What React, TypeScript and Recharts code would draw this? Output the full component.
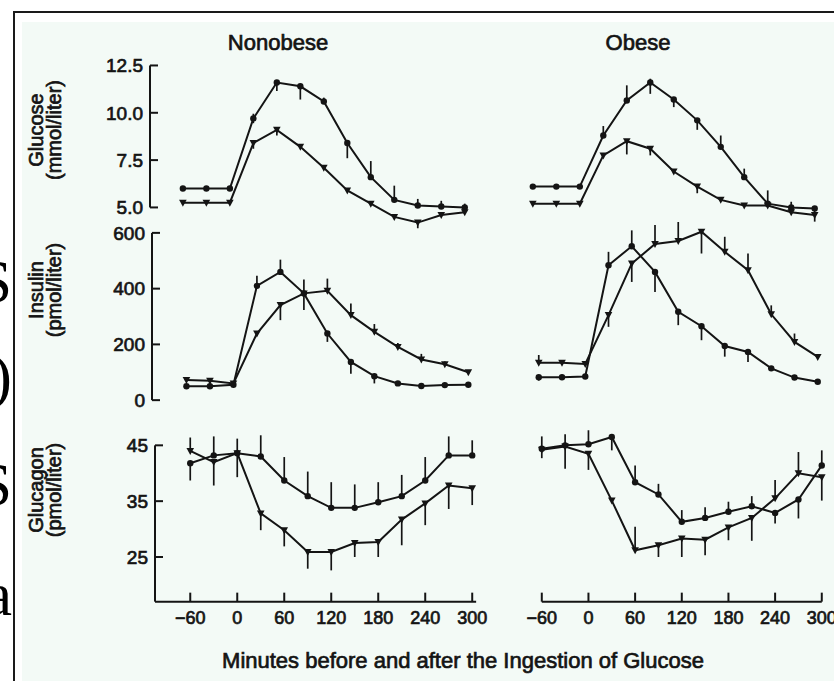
import { LineChart, Line, XAxis, YAxis, ErrorBar, ReferenceLine } from "recharts"

const INK = "#141414"
const FONT = "'Liberation Sans', Arial, Helvetica, sans-serif"

type Err = [number, number]

// minutes relative to glucose ingestion
const minutes = [-60, -30, 0, 30, 60, 90, 120, 150, 180, 210, 240, 270, 300]
const minuteTicks = [-60, 0, 60, 120, 180, 240, 300]

// glucose, mmol/liter
const glucoseTicks = [5, 7.5, 10, 12.5]
const glucoseNonobeseA = [6.0, 6.0, 6.0, 9.7, 11.6, 11.4, 10.6, 8.4, 6.6, 5.4, 5.1, 5.05, 5.0]
const glucoseNonobeseB = [5.25, 5.25, 5.25, 8.4, 9.1, 8.2, 7.1, 5.9, 5.2, 4.5, 4.2, 4.6, 4.75]
const glucoseNonobeseAErr: Err[] = [[0, 0], [0, 0], [0, 0], [0.25, 0.25], [0.45, 0], [0.7, 0], [0, 0.2], [0.8, 0], [0, 0.85], [0, 0.75], [0, 0.35], [0, 0.3], [0.2, 0.2]]
const glucoseNonobeseBErr: Err[] = [[0, 0], [0, 0], [0, 0], [0.3, 0], [0.3, 0], [0, 0], [0, 0], [0, 0], [0, 0], [0, 0], [0.3, 0], [0, 0], [0, 0]]
const glucoseObeseA = [6.1, 6.1, 6.1, 8.8, 10.65, 11.6, 10.7, 9.6, 8.2, 6.6, 5.2, 5.0, 4.95]
const glucoseObeseB = [5.2, 5.2, 5.2, 7.75, 8.5, 8.1, 6.9, 6.1, 5.4, 5.1, 5.1, 4.75, 4.6]
const glucoseObeseAErr: Err[] = [[0, 0], [0, 0], [0, 0], [0, 0.5], [0, 0.8], [0.6, 0.2], [0.4, 0], [0.5, 0], [0, 0.6], [0, 0.45], [0, 0.7], [0.3, 0.3], [0.3, 0]]
const glucoseObeseBErr: Err[] = [[0, 0], [0, 0], [0, 0], [0, 0], [0.7, 0], [0.35, 0], [0, 0], [0.35, 0], [0, 0], [0, 0], [0, 0], [0, 0], [0.35, 0]]

// insulin, pmol/liter
const insulinTicks = [0, 200, 400, 600]
const insulinNonobeseA = [50, 50, 55, 410, 460, 383, 239, 137, 86, 60, 51, 54, 55]
const insulinNonobeseB = [72, 70, 60, 239, 341, 383, 392, 305, 245, 191, 146, 129, 100]
const insulinNonobeseAErr: Err[] = [[0, 0], [0, 0], [0, 0], [0, 36], [0, 44], [60, 0], [30, 0], [42, 0], [26, 0], [0, 0], [0, 0], [0, 0], [0, 0]]
const insulinNonobeseBErr: Err[] = [[0, 0], [0, 0], [0, 0], [0, 0], [54, 0], [0, 50], [0, 44], [0, 42], [0, 28], [0, 14], [0, 20], [0, 10], [0, 0]]
const insulinObeseA = [82, 82, 85, 484, 552, 460, 317, 265, 194, 173, 114, 81, 66]
const insulinObeseB = [134, 134, 130, 305, 490, 560, 571, 604, 532, 466, 308, 209, 155]
const insulinObeseAErr: Err[] = [[12, 0], [0, 0], [0, 0], [0, 48], [0, 57], [72, 0], [48, 0], [50, 0], [38, 0], [36, 0], [0, 0], [0, 0], [0, 0]]
const insulinObeseBErr: Err[] = [[0, 28], [0, 0], [0, 0], [42, 0], [66, 0], [0, 68], [0, 68], [78, 0], [0, 54], [0, 60], [0, 32], [0, 30], [0, 0]]

// glucagon, pmol/liter
const glucagonTicks = [25, 35, 45]
const glucagonNonobeseA = [41.8, 43.2, 43.6, 43.0, 38.7, 35.9, 33.8, 33.8, 34.8, 35.9, 38.7, 43.2, 43.2]
const glucagonNonobeseB = [44.0, 42.0, 43.6, 32.8, 29.8, 25.9, 25.9, 27.5, 27.7, 31.7, 34.6, 37.8, 37.3]
const glucagonNonobeseAErr: Err[] = [[3.1, 0], [0, 3.4], [0, 2.6], [0, 3.8], [0, 4.2], [0, 4.4], [0, 4.6], [0, 4.2], [0, 3.6], [0, 3.8], [0, 4.2], [0, 3.4], [0, 2.7]]
const glucagonNonobeseBErr: Err[] = [[0, 2.4], [4.2, 0], [4.3, 0], [3.0, 0], [2.9, 0], [3.0, 0], [3.3, 0], [2.5, 0], [2.7, 0], [4.6, 0], [3.9, 0], [4.2, 0], [3.0, 0]]
const glucagonObeseA = [44.4, 45.0, 45.2, 46.5, 38.4, 36.2, 31.3, 32.0, 33.1, 34.1, 32.9, 35.3, 41.4]
const glucagonObeseB = [44.2, 44.8, 43.5, 35.1, 26.2, 27.1, 28.3, 28.1, 30.3, 32.0, 35.5, 40.0, 39.3]
const glucagonObeseAErr: Err[] = [[0, 2.2], [0, 2], [0, 2.5], [2.4, 0], [0, 3.0], [0, 1.9], [0, 2.1], [0, 1.9], [0, 1.8], [0, 1.8], [1.9, 0], [3.4, 0], [0, 2.7]]
const glucagonObeseBErr: Err[] = [[1.5, 0], [4, 0], [2.9, 0], [0, 0], [0, 4.2], [2.1, 0], [3.3, 0], [2.8, 0], [2.3, 0], [4.1, 0], [0, 3.3], [0, 3.8], [4.2, 0]]

const rows = (a: number[], b: number[], ae: Err[], be: Err[]) =>
  minutes.map((t, i) => ({ t, a: a[i], b: b[i], aErr: ae[i], bErr: be[i] }))

const circleDot = (p: any) => (
  <circle key={`c-${p.index}`} cx={p.cx} cy={p.cy} r={3.2} fill={INK} />
)

const triangleDot = (p: any) => (
  <polygon
    key={`t-${p.index}`}
    points={`${p.cx - 3.8},${p.cy - 3} ${p.cx + 3.8},${p.cy - 3} ${p.cx},${p.cy + 4}`}
    fill={INK}
  />
)

const YTick = ({ x, y, payload, fmt }: any) => (
  <g>
    <line x1={x} x2={x + 8} y1={y} y2={y} stroke={INK} strokeWidth={2} />
    <text x={x - 7} y={y} dy="0.36em" textAnchor="end" fontSize={19} fontFamily={FONT} fill={INK} stroke={INK} strokeWidth={0.7}>
      {fmt(payload.value)}
    </text>
  </g>
)

const XTick = ({ x, y, payload }: any) => (
  <g>
    <line x1={x} x2={x} y1={y} y2={y - 9} stroke={INK} strokeWidth={2} />
    <text x={x} y={y + 22} textAnchor="middle" fontSize={18} fontFamily={FONT} fill={INK} stroke={INK} strokeWidth={0.7}>
      {payload.value < 0 ? `\u2212${-payload.value}` : payload.value}
    </text>
  </g>
)

type PanelProps = {
  data: any[]
  t0: number // pixel of minute 0
  k: number // pixels per minute
  v0: number // reference value
  p0: number // pixel of reference value
  s: number // pixels per unit
  xDom: [number, number]
  yDom: [number, number]
  yTicks?: number[]
  yFmt?: (v: number) => string
  yLine?: [number, number]
  xTicks?: number[]
  xLine?: [number, number]
}

const PAD = 24

function Panel(p: PanelProps) {
  const yW = p.yTicks ? 70 : 0
  const xH = p.xTicks ? 40 : 0
  const left = p.t0 + p.xDom[0] * p.k
  const width = (p.xDom[1] - p.xDom[0]) * p.k
  const top = p.p0 - (p.yDom[1] - p.v0) * p.s
  const height = (p.yDom[1] - p.yDom[0]) * p.s
  const fmt = p.yFmt || ((v: number) => String(v))
  const w = width + yW + 2 * PAD

  return (
    <div style={{ position: "absolute", left: left - yW - PAD, top, width: w, height: height + xH }}>
      <LineChart width={w} height={height + xH} data={p.data} margin={{ top: 0, right: PAD, bottom: 0, left: PAD }}>
        <XAxis
          type="number"
          dataKey="t"
          domain={p.xDom}
          hide={!p.xTicks}
          ticks={p.xTicks}
          interval={0}
          axisLine={false}
          tickLine={false}
          tickSize={0}
          tickMargin={0}
          height={xH}
          tick={XTick}
        />
        <YAxis
          type="number"
          domain={p.yDom}
          hide={!p.yTicks}
          ticks={p.yTicks}
          interval={0}
          axisLine={false}
          tickLine={false}
          tickSize={0}
          tickMargin={0}
          width={yW}
          tick={(tp: any) => <YTick {...tp} fmt={fmt} />}
        />
        {p.yLine && (
          <ReferenceLine
            segment={[{ x: p.xDom[0], y: p.yLine[0] }, { x: p.xDom[0], y: p.yLine[1] }]}
            stroke={INK}
            strokeWidth={2}
          />
        )}
        {p.xLine && (
          <ReferenceLine
            segment={[{ x: p.xLine[0], y: p.yDom[0] }, { x: p.xLine[1], y: p.yDom[0] }]}
            stroke={INK}
            strokeWidth={2}
          />
        )}
        <Line dataKey="a" type="linear" stroke={INK} strokeWidth={2} dot={circleDot} activeDot={false} isAnimationActive={false}>
          <ErrorBar dataKey="aErr" direction="y" width={0} stroke={INK} strokeWidth={1.7} />
        </Line>
        <Line dataKey="b" type="linear" stroke={INK} strokeWidth={2} dot={triangleDot} activeDot={false} isAnimationActive={false}>
          <ErrorBar dataKey="bErr" direction="y" width={0} stroke={INK} strokeWidth={1.7} />
        </Line>
      </LineChart>
    </div>
  )
}

const txt = { fontFamily: FONT, fill: INK, stroke: INK, strokeWidth: 0.7 }

function YLabel({ cy, l1, l2 }: { cy: number; l1: string; l2: string }) {
  return (
    <g>
      <text x={43} y={cy} transform={`rotate(-90 43 ${cy})`} textAnchor="middle" fontSize={20} {...txt}>{l1}</text>
      <text x={61} y={cy} transform={`rotate(-90 61 ${cy})`} textAnchor="middle" fontSize={20} {...txt}>{l2}</text>
    </g>
  )
}

export default function App() {
  const glucoseY = { v0: 5, p0: 207, s: 18.93, yDom: [3.5, 13] as [number, number] }
  const insulinY = { v0: 0, p0: 400, s: 0.2788, yDom: [-30, 700] as [number, number] }
  const glucagonY = { v0: 45, p0: 445, s: 5.583, yDom: [17, 49] as [number, number] }

  return (
    <div style={{ position: "absolute", left: 0, top: 0, width: 834, height: 681, overflow: "hidden", background: "#ffffff" }}>
      <svg width={13} height={681} style={{ position: "absolute", left: 0, top: 0 }}>
        <g fontFamily="'Liberation Serif', 'DejaVu Serif', serif" fontSize={62} fill="#000" textAnchor="end">
          <text x={12} y={302}>S</text>
          <text x={12} y={397}>)</text>
          <text x={12} y={505}>S</text>
          <text x={12} y={615}>a</text>
        </g>
      </svg>
      <div style={{ position: "absolute", left: 13, top: 11, width: 830, height: 680, borderLeft: "2px solid #1a1a1a", borderTop: "2px solid #1a1a1a" }} />
      <div style={{ position: "absolute", left: 22, top: 22, right: 0, bottom: 0, background: "#f3faf6" }} />
      <svg width={834} height={681} style={{ position: "absolute", left: 0, top: 0 }}>
        <text x={278} y={50} textAnchor="middle" fontSize={22} {...txt}>Nonobese</text>
        <text x={638} y={50} textAnchor="middle" fontSize={22} {...txt}>Obese</text>
        <YLabel cy={130} l1="Glucose" l2="(mmol/liter)" />
        <YLabel cy={290} l1="Insulin" l2="(pmol/liter)" />
        <YLabel cy={490} l1="Glucagon" l2="(pmol/liter)" />
        <text x={463} y={668} textAnchor="middle" fontSize={22} {...txt}>Minutes before and after the Ingestion of Glucose</text>
      </svg>

      <Panel
        data={rows(glucoseNonobeseA, glucoseNonobeseB, glucoseNonobeseAErr, glucoseNonobeseBErr)}
        t0={230} k={0.783} {...glucoseY} xDom={[-102, 315]}
        yTicks={glucoseTicks} yFmt={(v) => v.toFixed(1)} yLine={[5, 12.5]}
      />
      <Panel
        data={rows(insulinNonobeseA, insulinNonobeseB, insulinNonobeseAErr, insulinNonobeseBErr)}
        t0={233} k={0.783} {...insulinY} xDom={[-104, 315]}
        yTicks={insulinTicks} yLine={[0, 600]}
      />
      <Panel
        data={rows(glucagonNonobeseA, glucagonNonobeseB, glucagonNonobeseAErr, glucagonNonobeseBErr)}
        t0={237} k={0.7833} {...glucagonY} xDom={[-105, 310]}
        yTicks={glucagonTicks} yLine={[17, 45]} xTicks={minuteTicks} xLine={[-105, 305]}
      />
      <Panel
        data={rows(glucoseObeseA, glucoseObeseB, glucoseObeseAErr, glucoseObeseBErr)}
        t0={580} k={0.783} {...glucoseY} xDom={[-70, 310]}
      />
      <Panel
        data={rows(insulinObeseA, insulinObeseB, insulinObeseAErr, insulinObeseBErr)}
        t0={585} k={0.775} {...insulinY} xDom={[-70, 310]}
      />
      <Panel
        data={rows(glucagonObeseA, glucagonObeseB, glucagonObeseAErr, glucagonObeseBErr)}
        t0={588.5} k={0.7778} {...glucagonY} xDom={[-70, 310]}
        xTicks={minuteTicks} xLine={[-60, 300]}
      />
    </div>
  )
}
